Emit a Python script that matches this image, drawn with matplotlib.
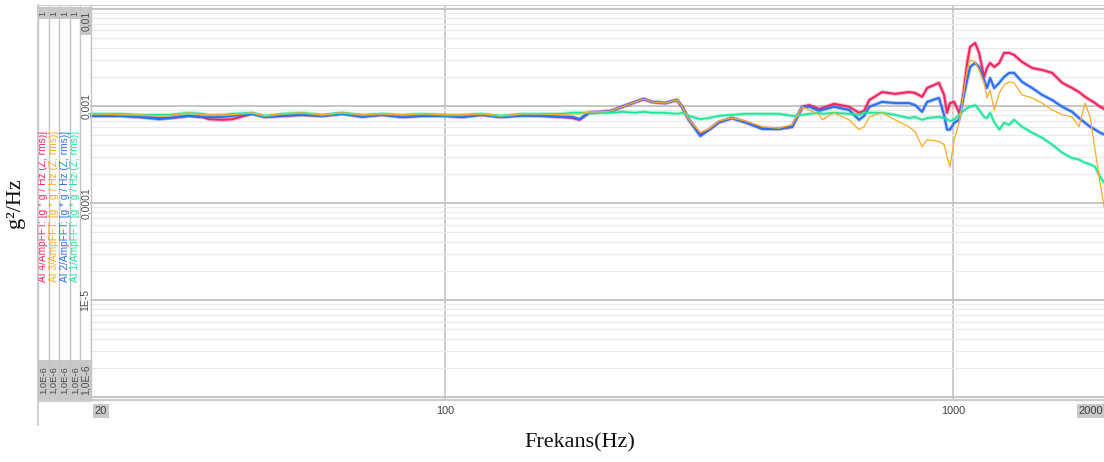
import matplotlib
matplotlib.use("Agg")
import matplotlib.pyplot as plt
from matplotlib.patches import Rectangle
from matplotlib.lines import Line2D
from matplotlib.ticker import LogLocator, NullLocator
import matplotlib.transforms as mtransforms

# ---------------- data ----------------
freq_hz = [20, 21, 23, 25, 27.4, 28.6, 31.3, 33.2, 34.3, 36.4, 38.1, 41.7, 44.2, 47.8, 52.3,
           57.3, 62.7, 68.7, 75.2, 82.3, 90.1, 100, 108, 118, 129, 142, 155, 170, 178, 184, 192,
           204, 213, 223, 237, 246, 255, 271, 286, 293, 302,
           318, 331, 346, 367, 390, 421, 454, 482, 505, 521,
           545, 552, 583, 624, 653, 668, 684, 725, 769, 819,
           842, 869, 889, 938, 960, 973, 986, 1005, 1028, 1042,
           1066, 1080, 1105, 1125, 1151, 1166, 1183, 1205, 1233, 1260,
           1290, 1318, 1367, 1431, 1497, 1567, 1640, 1715, 1770, 1819,
           1861, 1904, 1947, 2000]

ai4_red = [7.9e-4, 7.9e-4, 7.9e-4, 7.7e-4, 7.5e-4, 7.5e-4, 7.9e-4, 7.7e-4, 7.3e-4, 7.2e-4, 7.3e-4,
           8.3e-4, 7.7e-4, 7.9e-4, 8.1e-4, 7.9e-4, 8.3e-4, 7.9e-4, 8.1e-4, 7.7e-4, 7.9e-4, 7.9e-4,
           7.7e-4, 8.1e-4, 7.7e-4, 8.1e-4, 7.9e-4, 7.7e-4, 7.5e-4, 7.2e-4, 8.5e-4,
           8.7e-4, 8.9e-4, 9.8e-4, 1.10e-3, 1.18e-3, 1.10e-3, 1.07e-3, 1.15e-3, 9.8e-4, 7.2e-4,
           5.1e-4, 5.7e-4, 6.8e-4, 7.5e-4, 6.8e-4, 5.9e-4, 5.8e-4, 6.1e-4, 9.8e-4, 1.02e-3,
           9.3e-4, 9.5e-4, 1.05e-3, 9.8e-4, 8.5e-4, 8.9e-4, 1.15e-3, 1.39e-3, 1.33e-3, 1.39e-3,
           1.36e-3, 1.24e-3, 1.53e-3, 1.73e-3, 1.30e-3, 8.5e-4, 1.07e-3, 1.10e-3, 8.5e-4, 1.07e-3,
           2.77e-3, 4.06e-3, 4.46e-3, 3.52e-3, 1.99e-3, 2.46e-3, 2.77e-3, 2.52e-3, 2.77e-3, 3.52e-3,
           3.52e-3, 3.36e-3, 2.84e-3, 2.46e-3, 2.35e-3, 2.19e-3, 1.73e-3, 1.53e-3, 1.39e-3, 1.24e-3,
           1.15e-3, 1.07e-3, 9.8e-4, 9.1e-4]

ai3_orange = [8.3e-4, 8.3e-4, 8.1e-4, 8.1e-4, 7.9e-4, 7.9e-4, 8.5e-4, 8.1e-4, 8.1e-4, 8.1e-4, 8.1e-4,
              8.5e-4, 7.9e-4, 8.3e-4, 8.5e-4, 8.1e-4, 8.5e-4, 8.1e-4, 8.3e-4, 8.1e-4, 8.3e-4, 8.1e-4,
              8.1e-4, 8.3e-4, 7.9e-4, 8.3e-4, 8.3e-4, 8.1e-4, 8.3e-4, 8.3e-4, 8.7e-4,
              8.7e-4, 8.9e-4, 9.8e-4, 1.10e-3, 1.18e-3, 1.10e-3, 1.07e-3, 1.15e-3, 9.8e-4, 7.2e-4,
              5.3e-4, 5.8e-4, 7.0e-4, 7.5e-4, 7.0e-4, 6.1e-4, 5.9e-4, 6.4e-4, 9.8e-4, 9.1e-4,
              8.1e-4, 7.2e-4, 8.5e-4, 7.2e-4, 5.7e-4, 6.1e-4, 7.7e-4, 8.5e-4, 7.2e-4, 6.1e-4,
              5.4e-4, 3.8e-4, 4.5e-4, 4.3e-4, 4.0e-4, 3.0e-4, 2.35e-4, 4.5e-4, 6.7e-4, 1.07e-3,
              2.35e-3, 2.98e-3, 2.84e-3, 2.35e-3, 1.73e-3, 1.21e-3, 1.46e-3, 9.1e-4, 1.36e-3, 1.65e-3,
              1.77e-3, 1.73e-3, 1.30e-3, 1.21e-3, 1.07e-3, 9.1e-4, 8.1e-4, 7.7e-4, 6.1e-4, 1.07e-3,
              7.7e-4, 3.5e-4, 1.61e-4, 7.2e-5]

ai2_blue = [7.9e-4, 7.9e-4, 7.9e-4, 7.7e-4, 7.3e-4, 7.5e-4, 7.9e-4, 7.7e-4, 7.7e-4, 7.7e-4, 7.9e-4,
            8.3e-4, 7.7e-4, 7.9e-4, 8.1e-4, 7.9e-4, 8.3e-4, 7.7e-4, 8.1e-4, 7.7e-4, 7.9e-4, 7.9e-4,
            7.7e-4, 8.1e-4, 7.7e-4, 7.9e-4, 7.9e-4, 7.7e-4, 7.7e-4, 7.3e-4, 8.5e-4,
            8.7e-4, 8.9e-4, 9.8e-4, 1.10e-3, 1.18e-3, 1.10e-3, 1.07e-3, 1.15e-3, 9.8e-4, 7.2e-4,
            4.9e-4, 5.7e-4, 6.8e-4, 7.5e-4, 6.8e-4, 5.8e-4, 5.8e-4, 6.1e-4, 9.8e-4, 9.8e-4,
            8.9e-4, 9.1e-4, 9.8e-4, 9.1e-4, 7.2e-4, 7.9e-4, 9.8e-4, 1.10e-3, 1.07e-3, 1.07e-3,
            1.02e-3, 8.7e-4, 1.10e-3, 1.21e-3, 8.1e-4, 5.7e-4, 5.7e-4, 6.7e-4, 7.2e-4, 1.07e-3,
            1.85e-3, 2.52e-3, 2.77e-3, 2.52e-3, 1.85e-3, 1.53e-3, 1.94e-3, 1.53e-3, 1.73e-3, 1.99e-3,
            2.19e-3, 2.19e-3, 1.77e-3, 1.53e-3, 1.30e-3, 1.15e-3, 9.8e-4, 8.7e-4, 7.5e-4, 6.7e-4,
            6.1e-4, 5.7e-4, 5.3e-4, 5.0e-4]

ai1_green = [8.3e-4, 8.3e-4, 8.3e-4, 8.1e-4, 8.1e-4, 8.1e-4, 8.5e-4, 8.3e-4, 8.1e-4, 8.1e-4, 8.3e-4,
             8.5e-4, 7.9e-4, 8.3e-4, 8.5e-4, 8.1e-4, 8.5e-4, 8.1e-4, 8.3e-4, 8.1e-4, 8.3e-4, 8.1e-4,
             8.1e-4, 8.3e-4, 7.9e-4, 8.3e-4, 8.3e-4, 8.3e-4, 8.5e-4, 8.5e-4, 8.5e-4,
             8.5e-4, 8.5e-4, 8.7e-4, 8.5e-4, 8.7e-4, 8.5e-4, 8.5e-4, 8.3e-4, 8.5e-4, 7.9e-4,
             7.3e-4, 7.5e-4, 7.9e-4, 8.1e-4, 8.3e-4, 8.3e-4, 8.3e-4, 7.9e-4, 8.1e-4, 8.3e-4,
             8.5e-4, 8.3e-4, 8.5e-4, 8.3e-4, 8.1e-4, 8.5e-4, 8.5e-4, 8.5e-4, 8.1e-4, 7.5e-4,
             7.7e-4, 7.2e-4, 7.5e-4, 7.7e-4, 7.5e-4, 7.3e-4, 7.0e-4, 7.2e-4, 8.1e-4, 8.7e-4,
             9.5e-4, 9.8e-4, 1.02e-3, 9.1e-4, 7.7e-4, 7.5e-4, 8.5e-4, 6.8e-4, 5.7e-4, 6.7e-4,
             6.4e-4, 7.2e-4, 6.1e-4, 5.3e-4, 4.7e-4, 4.0e-4, 3.3e-4, 2.9e-4, 2.8e-4, 2.6e-4,
             2.5e-4, 2.35e-4, 1.85e-4, 1.53e-4]

series_labels = ["AI 4/AmpFFT: [g * g / Hz (Z, rms)]",
                 "AI 3/AmpFFT: [g * g / Hz (Z, rms)]",
                 "AI 2/AmpFFT: [g * g / Hz (Z, rms)]",
                 "AI 1/AmpFFT: [g * g / Hz (Z, rms)]"]
series_colors = ["#f2255e", "#fbab2a", "#2d6ff0", "#22e59b"]

ytick_vals = [1e-3, 1e-4, 1e-5]
ytick_text = ["0,001", "0,0001", "1E-5"]
ytop_text = "0,01"
ybottom_text = "1,0E-6"
xtick_vals = [100, 1000]
xtick_text = ["100", "1000"]
xleft_text = "20"
xright_text = "2000"

# ---------------- figure ----------------
W, H = 1104, 462
fig = plt.figure(figsize=(W / 100, H / 100), dpi=100)
fig.patch.set_facecolor("white")

def fx(px):
    return px / W

def fy(py):
    return 1 - py / H

PL, PR, PT, PB = 90, 1106, 5, 400
ax = fig.add_axes([fx(PL), fy(PB), (PR - PL) / W, (PB - PT) / H])
ax.set_xscale("log")
ax.set_yscale("log")
ax.set_xlim(20, 2000)
ax.set_ylim(10 ** -6.03, 10 ** -1.96)

ax.set_xticks(xtick_vals)
ax.xaxis.set_minor_locator(NullLocator())
ax.set_yticks([1e-2] + ytick_vals + [1e-6])
ax.yaxis.set_minor_locator(LogLocator(base=10, subs=range(2, 10), numticks=50))
ax.tick_params(which="both", length=0, labelleft=False, labelbottom=False)
ax.grid(which="minor", axis="y", color="#eaeaea", lw=0.9)
ax.grid(which="major", axis="y", color="#c2c2c2", lw=1.3)
ax.grid(which="major", axis="x", color="#c0c0c0", lw=1.1)
for s in ["right", "left"]:
    ax.spines[s].set_visible(False)
ax.spines["top"].set_color("#d0d0d0")
ax.spines["bottom"].set_color("#cccccc")
ax.spines["bottom"].set_linewidth(1.6)

series = [ai4_red, ai2_blue, ai1_green, ai3_orange]
cols = [series_colors[0], series_colors[2], series_colors[3], series_colors[1]]
widths = [1.5, 1.5, 1.3, 0.9]
for vals, c, w in zip(series, cols, widths):
    if w > 1.2:
        ax.plot(freq_hz, vals, color=c, lw=w + 1.4, alpha=0.3, solid_joinstyle="round")
    ax.plot(freq_hz, vals, color=c, lw=w, solid_joinstyle="round")

# ---------------- left strip ----------------
SL, SR = 38, 91
sax = fig.add_axes([fx(SL), fy(PB), (SR - SL) / W, (PB - PT) / H])
sax.set_xlim(0, SR - SL)
sax.set_ylim(PB, PT)
sax.axis("off")
ncol = 5
cw = (SR - SL) / ncol
gray_box = "#c9c9c9"
txt_gray = "#505050"
for i in range(4):
    sax.add_patch(Rectangle((i * cw, 7), cw, 12, facecolor=gray_box, edgecolor="none"))
sax.add_patch(Rectangle((4 * cw, 7), cw, 28, facecolor=gray_box, edgecolor="none"))
sax.add_patch(Rectangle((0, 360), SR - SL, 40, facecolor=gray_box, edgecolor="none"))
for i in range(ncol + 1):
    sax.plot([i * cw, i * cw], [PT, PB], color="#c4c4c4", lw=1.0, clip_on=False)
sax.plot([0, SR - SL], [PT, PT], color="#d0d0d0", lw=1.0)

for i in range(4):
    cx = (i + 0.5) * cw
    sax.text(cx, 206, series_labels[i], rotation=90, ha="center", va="center",
             color=series_colors[i], fontsize=7.3, family="Liberation Sans")
    sax.text(cx, 13, "1", rotation=90, ha="center", va="center", color=txt_gray,
             fontsize=6.5, family="Liberation Sans")
    sax.text(cx, 380, ybottom_text, rotation=90, ha="center", va="center", color=txt_gray,
             fontsize=6.8, family="Liberation Sans")
cx5 = 4.5 * cw
sax.text(cx5, 21, ytop_text, rotation=90, ha="center", va="center", color=txt_gray,
         fontsize=7.5, family="Liberation Sans")
sax.text(cx5, 380, ybottom_text, rotation=90, ha="center", va="center", color=txt_gray,
         fontsize=7.5, family="Liberation Sans")
trans = mtransforms.blended_transform_factory(sax.transData, ax.transData)
for v, t in zip(ytick_vals, ytick_text):
    sax.text(cx5, v, t, transform=trans, rotation=90, ha="center", va="center",
             color=txt_gray, fontsize=7.5, family="Liberation Sans")

fig.add_artist(Line2D([fx(SL), fx(SL)], [fy(PT), fy(425)], color="#c8c8c8", lw=1.2))
fig.add_artist(Line2D([fx(SL), fx(PL)], [fy(PB + 0.8), fy(PB + 0.8)], color="#cccccc", lw=1.6))

# x tick labels
xt = mtransforms.blended_transform_factory(ax.transData, fig.transFigure)
for v, t in zip(xtick_vals, xtick_text):
    fig.text(v, fy(411), t, transform=xt, ha="center", va="center",
             fontsize=7.8, color="#404040", family="Liberation Sans")
fig.text(fx(101), fy(411), xleft_text, ha="center", va="center", fontsize=8,
         color="#404040", family="Liberation Sans",
         bbox=dict(boxstyle="square,pad=0.15", facecolor=gray_box, edgecolor="none"))
fig.text(fx(1103), fy(411), xright_text, ha="right", va="center", fontsize=8,
         color="#404040", family="Liberation Sans",
         bbox=dict(boxstyle="square,pad=0.15", facecolor=gray_box, edgecolor="none"))

fig.text(fx(16), fy(203), "g²/Hz", rotation=90, ha="center", va="center",
         fontsize=16, family="Liberation Serif", color="#111111")
fig.text(fx(580), fy(443), "Frekans(Hz)", ha="center", va="center",
         fontsize=16, family="Liberation Serif", color="#111111")

fig.savefig("out.png", dpi=100, facecolor="white")
